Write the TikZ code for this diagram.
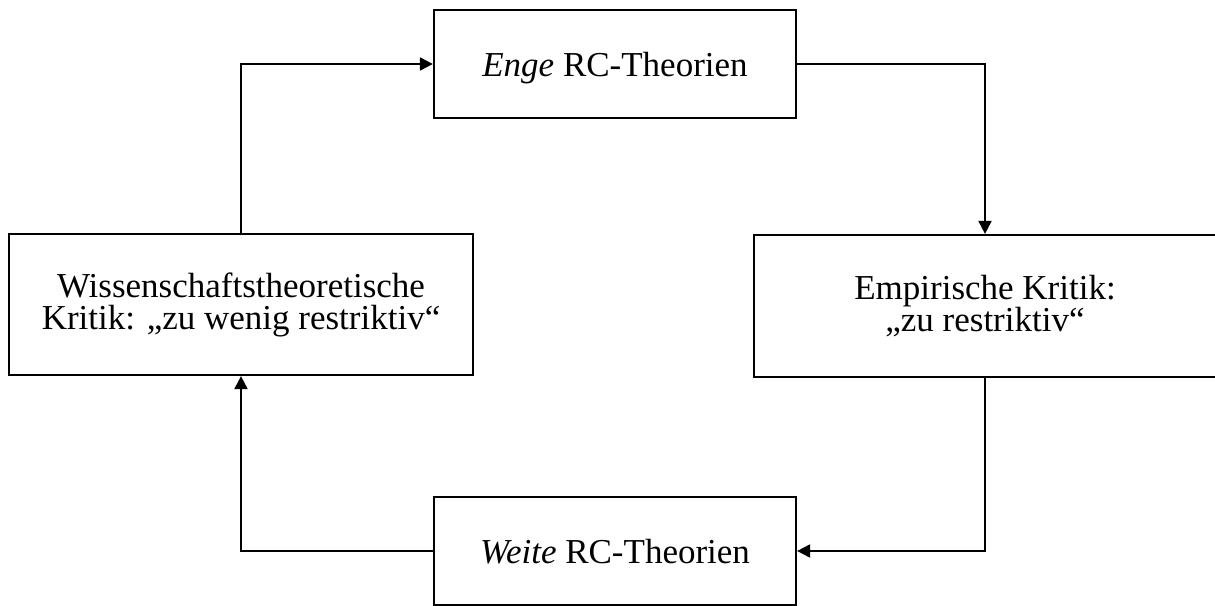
\documentclass[tikz,border=0pt]{standalone}
\usepackage{fontspec}
\setmainfont{Liberation Serif}
\usetikzlibrary{arrows.meta}
\begin{document}
\begin{tikzpicture}[x=1pt,y=-1pt,
  box/.style={draw, line width=2.2pt, inner sep=0pt, align=center,
    font=\fontsize{35}{32}\selectfont},
  theory/.style={box, minimum width=362pt, minimum height=108pt, text depth=0pt},
  link/.style={line width=2pt, -{Triangle[length=13pt,width=13pt]}}]
  \path[use as bounding box, clip] (0,0) rectangle (1215,605);
  \fill[white] (0,0) rectangle (1215,605);

  \node[theory] (enge) at (615,64) {\textit{Enge} RC-Theorien};
  \node[box, minimum width=462pt, minimum height=142pt] (emp) at (985,306)
    {Empirische Kritik:\\„zu restriktiv“};
  \node[theory] (weite) at (615,551) {\textit{Weite} RC-Theorien};
  \node[box, minimum width=464pt, minimum height=141pt] (wiss) at (241,304.5)
    {Wissenschaftstheoretische\\Kritik: „zu wenig restriktiv“};

  \draw[link] (enge.east) -| (emp.north);
  \draw[link] (emp.south) |- (weite.east);
  \draw[link] (weite.west) -| (wiss.south);
  \draw[link] (wiss.north) |- (enge.west);
\end{tikzpicture}
\end{document}
